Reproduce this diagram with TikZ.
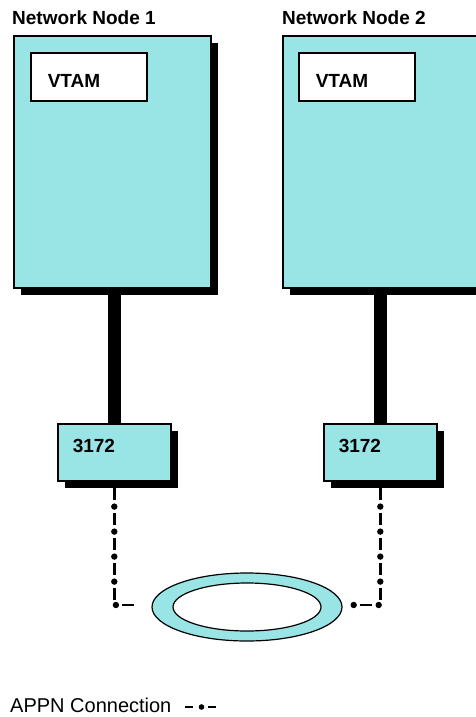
\documentclass[tikz,border=0pt]{standalone}
\usepackage{fontspec}
\setmainfont{Liberation Sans}
\usetikzlibrary{shadows,shapes.geometric,decorations.markings}
\definecolor{lancyan}{RGB}{153,229,229}
\begin{document}
\begin{tikzpicture}[x=1pt, y=-1pt]
        \def\gap{25pt}
        \tikzstyle{host}=[rectangle, draw=black, line width=2pt, fill=lancyan, minimum width=197pt, minimum height=252pt, inner sep=0pt, anchor=north west, drop shadow={shadow xshift=7pt, shadow yshift=-7pt, fill=black, opacity=1}]
        \tikzstyle{vtam}=[rectangle, draw=black, line width=1.6pt, fill=white, anchor=north west, minimum height=48pt, text width=82pt, inner xsep=17pt, inner ysep=0pt, align=left, text height=21pt, text depth=0pt, font=\fontsize{19}{22}\selectfont\bfseries]
        \tikzstyle{device}=[rectangle, draw=black, line width=1.6pt, fill=lancyan, anchor=north west, minimum height=57pt, text width=83pt, inner xsep=15pt, inner ysep=0pt, align=left, text height=8pt, text depth=8pt, font=\fontsize{19}{22}\selectfont\bfseries, drop shadow={shadow xshift=7pt, shadow yshift=-7pt, fill=black, opacity=1}]
        \tikzstyle{title}=[anchor=base west, inner sep=0pt, font=\fontsize{19}{22}\selectfont\bfseries]
        \tikzstyle{trunk}=[line width=13pt]
        \tikzstyle{appn}=[line width=2.5pt, dash pattern=on 0pt off 6.5pt on 12pt off 6.5pt, postaction={decorate, decoration={markings, mark=between positions \gap and 1 step \gap with {\fill (0,0) circle (3.2pt);}}}]
        \tikzstyle{appnkey}=[line width=2.5pt, dash pattern=on 8pt off 15pt, postaction={decorate, decoration={markings, mark=at position 0.5 with {\fill (0,0) circle (2.8pt);}}}]

        \useasboundingbox (0,0) rectangle (475,717);

        % Node 1
        \draw node at (12, 25) [title] (title_1) {Network Node 1};
        \draw node at (13, 35) [host] (host_1) {};
        \draw node at (30, 52) [vtam] (vtam_1) {VTAM};
        \draw node at (57, 423) [device] (dev_1) {3172};

        % Node 2
        \draw node at (282, 25) [title] (title_2) {Network Node 2};
        \draw node at (282, 35) [host] (host_2) {};
        \draw node at (298, 52) [vtam] (vtam_2) {VTAM};
        \draw node at (323, 423) [device] (dev_2) {3172};

        % Ring
        \draw node at (247, 607) [ellipse, draw=black, line width=1.2pt, fill=lancyan, minimum width=190pt, minimum height=68pt] (ring) {};
        \draw node at (247, 607) [ellipse, draw=black, line width=1.2pt, fill=white, minimum width=148pt, minimum height=48pt] (ring_in) {};

        % Host -> 3172
        \draw [trunk] (dev_1.north) -- (dev_1.north |- host_1.south);
        \draw [trunk] (dev_2.north) -- (dev_2.north |- host_2.south);

        % 3172 -> ring
        \coordinate (end_1) at (140, 605);
        \coordinate (end_2) at (352, 605);
        \draw [appn] (dev_1.south) |- (end_1);
        \draw [appn] (dev_2.south) |- (end_2);

        % Key
        \draw node at (10, 712) [anchor=base west, inner sep=0pt, font=\fontsize{20}{24}\selectfont] (key) {APPN Connection};
        \coordinate (key_a) at (185, 707);
        \coordinate (key_b) at (218, 707);
        \draw [appnkey] (key_a) -- (key_b);

    \end{tikzpicture}
\end{document}
